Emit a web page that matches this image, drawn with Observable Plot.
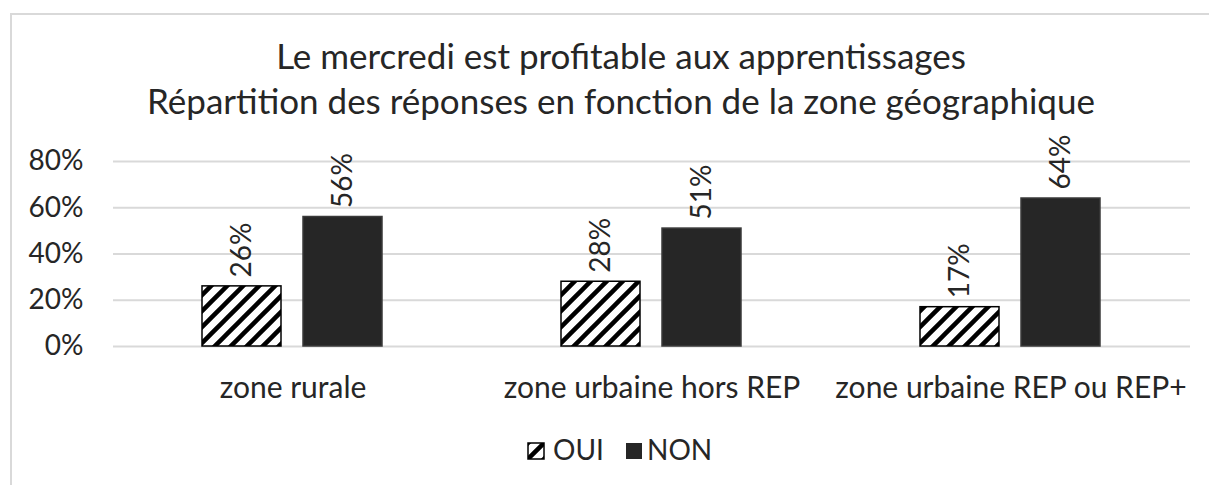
<!DOCTYPE html>
<html><head><meta charset="utf-8">
<script src="https://cdn.jsdelivr.net/npm/d3@7"></script>
<script src="https://cdn.jsdelivr.net/npm/@observablehq/plot@0.6"></script>
<style>
body{margin:0;background:#fff;}
#wrap{position:relative;width:1209px;height:485px;overflow:hidden;font-family:Lato,sans-serif;color:#262626;}
#frame{position:absolute;left:10px;top:13px;width:1300px;height:600px;border:2px solid #d9d9d9;}
#chart,#overlay{position:absolute;left:0;top:0;}
</style></head>
<body>
<div id="wrap"><div id="frame"></div><div id="chart"></div><svg id="overlay" width="1209" height="485"></svg></div>
<script>
const categories = ["zone rurale", "zone urbaine hors REP", "zone urbaine REP ou REP+"];
const series = ["OUI", "NON"];
const oui = [0.26, 0.28, 0.17];
const non = [0.56, 0.51, 0.64];
const yTicks = [0, 0.2, 0.4, 0.6, 0.8];
const titleLines = ["Le mercredi est profitable aux apprentissages", "Répartition des réponses en fonction de la zone géographique"];

const data = categories.flatMap((c, i) => [
  {category: c, serie: series[0], value: oui[i]},
  {category: c, serie: series[1], value: non[i]}
]);
const pct = d3.format(".0%");
const FS = 30, NS = 28;

const plot = Plot.plot({
  width: 1209, height: 485,
  marginLeft: 112, marginRight: 18, marginTop: 161, marginBottom: 139,
  style: {fontFamily: "Lato, sans-serif", fontSize: FS + "px", color: "#262626", background: "transparent", overflow: "visible"},
  fx: {domain: categories, padding: 0, axis: null, label: null},
  x: {domain: series, paddingInner: 0.216, paddingOuter: 0.871, axis: null},
  y: {domain: [0, 0.8], axis: null},
  color: {domain: series, range: ["url(#hatch)", "#262626"]},
  marks: [
    Plot.gridY(yTicks, {stroke: "#d9d9d9", strokeOpacity: 1, strokeWidth: 2}),
    Plot.axisY({ticks: yTicks, tickFormat: pct, tickSize: 0, tickPadding: 30, fontSize: NS, fill: "#262626", label: null}),
    Plot.axisFx({anchor: "bottom", tickSize: 0, tickPadding: 30, fontSize: FS, fill: "#262626", label: null}),
    Plot.barY(data, {fx: "category", x: "serie", y: "value", fill: "serie", stroke: d => d.serie === "OUI" ? "#000" : "#3a3a3a", strokeWidth: 1.5}),
    Plot.text(data, {fx: "category", x: "serie", y: "value", text: d => pct(d.value), rotate: -90, textAnchor: "start", dy: -9, fontSize: NS, fill: "#262626"})
  ]
});
const defs = d3.select(plot).insert("defs", ":first-child");
const pat = defs.append("pattern").attr("id", "hatch").attr("patternUnits", "userSpaceOnUse").attr("width", 16).attr("height", 16);
pat.append("rect").attr("width", 16).attr("height", 16).attr("fill", "#fff");
pat.append("path").attr("d", "M-4,4L4,-4M0,16L16,0M12,20L20,12").attr("stroke", "#000").attr("stroke-width", 4.5);
document.getElementById("chart").appendChild(plot);

const ov = d3.select("#overlay");
const odefs = ov.append("defs");
const p2 = odefs.append("pattern").attr("id", "hatch2").attr("patternUnits", "userSpaceOnUse").attr("x", 528).attr("y", 443).attr("width", 16).attr("height", 16);
p2.append("rect").attr("width", 16).attr("height", 16).attr("fill", "#fff");
p2.append("path").attr("d", "M-4,4L4,-4M0,16L16,0M12,20L20,12").attr("stroke", "#000").attr("stroke-width", 4.5);
ov.selectAll("text.title").data(titleLines).join("text").attr("class", "title")
  .attr("x", 621).attr("y", (d, i) => 69 + i * 45).attr("text-anchor", "middle")
  .attr("font-family", "Lato, sans-serif").attr("font-size", 35).attr("fill", "#262626").text(d => d);
const lg = ov.append("g");
lg.append("rect").attr("x", 528).attr("y", 443).attr("width", 16).attr("height", 16).attr("fill", "url(#hatch2)").attr("stroke", "#000").attr("stroke-width", 1.5);
lg.append("text").attr("x", 553).attr("y", 460).attr("font-size", NS).attr("font-family", "Lato, sans-serif").attr("fill", "#262626").text(series[0]);
lg.append("rect").attr("x", 626).attr("y", 443).attr("width", 16).attr("height", 16).attr("fill", "#262626");
lg.append("text").attr("x", 647).attr("y", 460).attr("font-size", NS).attr("font-family", "Lato, sans-serif").attr("fill", "#262626").text(series[1]);
</script>
</body></html>
